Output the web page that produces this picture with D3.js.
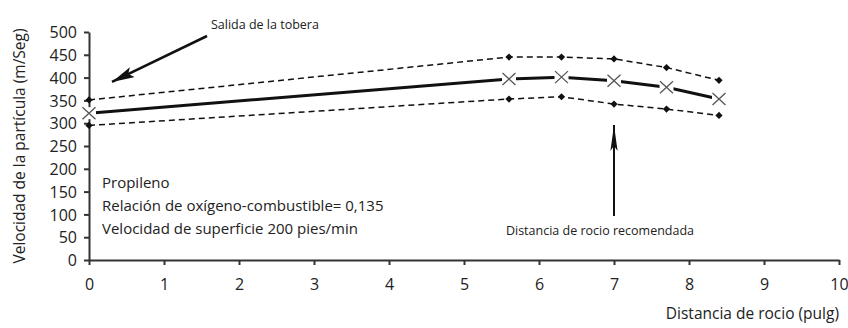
<!DOCTYPE html>
<html>
<head>
<meta charset="utf-8">
<script src="https://cdn.jsdelivr.net/npm/d3@7"></script>
<style>
  body { margin: 0; background: #fff; }
  svg text { font-family: "Open Sans", "Lato", sans-serif; fill: #222; }
</style>
</head>
<body>
<svg id="chart"></svg>
<script>
// Chart size
const width = 848;
const height = 328;
const margin = {top: 32, right: 9, bottom: 68, left: 89};

// Data
const distances = [0, 5.6, 6.3, 7.0, 7.7, 8.4];
const meanSpeed = [322, 397, 401, 393, 379, 353];
const upperSpeed = [351, 445, 445, 441, 422, 394];
const lowerSpeed = [295, 353, 358, 342, 331, 317];
const xTicks = [0, 1, 2, 3, 4, 5, 6, 7, 8, 9, 10];
const yTicks = [0, 50, 100, 150, 200, 250, 300, 350, 400, 450, 500];
const notes = ["Propileno", "Relación de oxígeno-combustible= 0,135", "Velocidad de superficie 200 pies/min"];
const recommendedDistance = 7;

const svg = d3.select("#chart")
	.attr("width", width)
	.attr("height", height);

const x = d3.scaleLinear()
	.domain([0, 10])
	.range([margin.left, width - margin.right]);

const y = d3.scaleLinear()
	.domain([0, 500])
	.range([height - margin.bottom, margin.top]);

// Arrow heads (one long, one narrow)
const defs = svg.append("defs");
function addHead(id, w, h) {
	defs.append("marker")
		.attr("id", id)
		.attr("viewBox", "0 0 10 10")
		.attr("preserveAspectRatio", "none")
		.attr("refX", 10)
		.attr("refY", 5)
		.attr("markerWidth", w)
		.attr("markerHeight", h)
		.attr("markerUnits", "strokeWidth")
		.attr("orient", "auto")
		.append("path")
		.attr("d", "M0,0 L10,5 L0,10 L2,5 Z")
		.attr("fill", "#111");
}
addHead("head1", 9, 4.4);
addHead("head2", 13, 3.6);

// Axes
const xAxis = svg.append("g")
	.attr("transform", `translate(0,${y(0)})`)
	.call(d3.axisBottom(x).tickValues(xTicks).tickSize(5).tickSizeOuter(0).tickPadding(14));

const yAxis = svg.append("g")
	.attr("transform", `translate(${x(0)},0)`)
	.call(d3.axisLeft(y).tickValues(yTicks).tickSize(5).tickSizeOuter(0).tickPadding(7));

[xAxis, yAxis].forEach(g => {
	g.select(".domain").attr("stroke", "#333").attr("stroke-width", 2);
	g.selectAll(".tick line").attr("stroke", "#333").attr("stroke-width", 2);
	g.selectAll(".tick text")
		.attr("font-size", 16)
		.style("font-family", "'Open Sans', Lato, sans-serif")
		.attr("fill", "#222");
});
yAxis.selectAll(".tick text").attr("dy", "0.36em");

// Axis titles
svg.append("text")
	.attr("transform", `translate(25,${(y(0) + y(500)) / 2}) rotate(-90)`)
	.attr("text-anchor", "middle")
	.attr("font-size", 15.5)
	.text("Velocidad de la partícula (m/Seg)");

svg.append("text")
	.attr("x", width - 9)
	.attr("y", 319)
	.attr("text-anchor", "end")
	.attr("font-size", 15.5)
	.text("Distancia de rocio (pulg)");

// Lines
const line = d3.line()
	.x(d => x(d[0]))
	.y(d => y(d[1]));

const series = [
	{values: upperSpeed, width: 1.5, dash: "6,4"},
	{values: lowerSpeed, width: 1.5, dash: "6,4"},
	{values: meanSpeed, width: 3, dash: null}
];

series.forEach(s => {
	svg.append("path")
		.datum(distances.map((d, i) => [d, s.values[i]]))
		.attr("fill", "none")
		.attr("stroke", "#111")
		.attr("stroke-width", s.width)
		.attr("stroke-dasharray", s.dash)
		.attr("d", line);
});

// Diamond markers for the band
const diamond = d3.symbol().type(d3.symbolSquare).size(26);
[upperSpeed, lowerSpeed].forEach(vals => {
	svg.append("g")
		.selectAll("path")
		.data(distances.map((d, i) => [d, vals[i]]))
		.join("path")
		.attr("transform", d => `translate(${x(d[0])},${y(d[1])}) rotate(45)`)
		.attr("d", diamond)
		.attr("fill", "#111");
});

// Cross markers for the mean
const cross = svg.append("g")
	.selectAll("g")
	.data(distances.map((d, i) => [d, meanSpeed[i]]))
	.join("g")
	.attr("transform", d => `translate(${x(d[0])},${y(d[1])})`);

cross.append("rect")
	.attr("x", -7).attr("y", -6).attr("width", 14).attr("height", 12)
	.attr("fill", "#fff");
cross.append("path")
	.attr("d", "M-6.5,-6 L6.5,6 M-6.5,6 L6.5,-6")
	.attr("stroke", "#555")
	.attr("stroke-width", 1.3);

// Annotation: nozzle exit
svg.append("line")
	.attr("x1", 207).attr("y1", 36)
	.attr("x2", x(0) + 23).attr("y2", y(upperSpeed[0]) - 18)
	.attr("stroke", "#111")
	.attr("stroke-width", 2.5)
	.attr("marker-end", "url(#head1)");

svg.append("text")
	.attr("x", 211)
	.attr("y", 29)
	.attr("font-size", 12.5)
	.text("Salida de la tobera");

// Annotation: recommended distance
svg.append("line")
	.attr("x1", x(recommendedDistance)).attr("y1", 216)
	.attr("x2", x(recommendedDistance)).attr("y2", y(lowerSpeed[3]) + 21)
	.attr("stroke", "#111")
	.attr("stroke-width", 2)
	.attr("marker-end", "url(#head2)");

svg.append("text")
	.attr("x", x(recommendedDistance) - 14)
	.attr("y", 235)
	.attr("text-anchor", "middle")
	.attr("font-size", 12.5)
	.text("Distancia de rocio recomendada");

// Notes block
svg.append("g")
	.selectAll("text")
	.data(notes)
	.join("text")
	.attr("x", 102)
	.attr("y", (d, i) => 188 + i * 23)
	.attr("font-size", 15)
	.text(d => d);
</script>
</body>
</html>
